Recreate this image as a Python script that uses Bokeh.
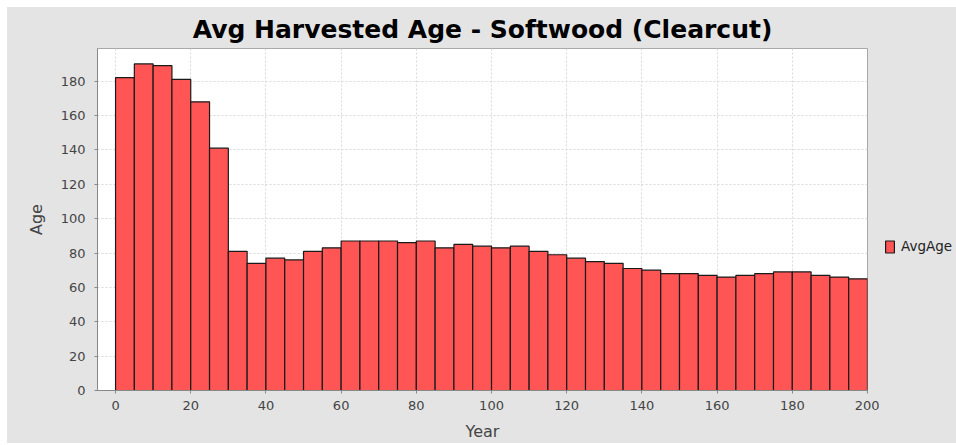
from bokeh.plotting import figure
from bokeh.layouts import row
from bokeh.models import Range1d, SingleIntervalTicker, Legend, LegendItem, ColumnDataSource
from bokeh.embed import file_html
from bokeh.resources import INLINE

# Data
start_year = [0, 5, 10, 15, 20, 25, 30, 35, 40, 45,
              50, 55, 60, 65, 70, 75, 80, 85, 90, 95,
              100, 105, 110, 115, 120, 125, 130, 135, 140, 145,
              150, 155, 160, 165, 170, 175, 180, 185, 190, 195]
avg_age = [182, 190, 189, 181, 168, 141, 81, 74, 77, 76,
           81, 83, 87, 87, 87, 86, 87, 83, 85, 84,
           83, 84, 81, 79, 77, 75, 74, 71, 70, 68,
           68, 67, 66, 67, 68, 69, 69, 67, 66, 65]
bin_width = 5
series_name = "AvgAge"

src = ColumnDataSource(dict(
    left=start_year,
    right=[s + bin_width for s in start_year],
    top=avg_age,
    bottom=[0] * len(avg_age),
))

FONT = "DejaVu Sans"
BG = "#e4e4e4"
BAR_FILL = "#ff5555"
BAR_LINE = "#1a1a1a"

p = figure(width=872, height=436, output_backend="svg", toolbar_location=None,
           x_range=Range1d(-4.8, 200), y_range=Range1d(0, 199),
           min_border_left=90, min_border_right=12, min_border_top=41, min_border_bottom=53)

p.border_fill_color = BG
p.background_fill_color = "white"
p.outline_line_color = "#a8a8a8"
p.outline_line_width = 1

p.title.text = "Avg Harvested Age - Softwood (Clearcut)"
p.title.align = "center"
p.title.text_font = FONT
p.title.text_font_size = "25px"
p.title.text_font_style = "bold"
p.title.text_color = "black"
p.title.offset = 5

p.quad(left="left", right="right", top="top", bottom="bottom", source=src,
       fill_color=BAR_FILL, line_color=BAR_LINE, line_width=1.2)

for ax in (p.xaxis[0], p.yaxis[0]):
    ax.major_label_text_font = FONT
    ax.major_label_text_font_size = "13px"
    ax.major_label_text_color = "#444444"
    ax.axis_label_text_font = FONT
    ax.axis_label_text_font_size = "16px"
    ax.axis_label_text_font_style = "normal"
    ax.axis_label_text_color = "#444444"
    ax.axis_line_color = "#888888"
    ax.major_tick_line_color = "#888888"
    ax.major_tick_in = 0
    ax.major_tick_out = 3
    ax.minor_tick_line_color = None

p.xaxis.ticker = SingleIntervalTicker(interval=20)
p.yaxis.ticker = SingleIntervalTicker(interval=20)
p.xaxis.axis_label = "Year"
p.yaxis.axis_label = "Age"
p.xaxis.major_label_standoff = 6
p.yaxis.major_label_standoff = 8
p.xaxis.axis_label_standoff = 9
p.yaxis.axis_label_standoff = 12

for g in (p.xgrid[0], p.ygrid[0]):
    g.grid_line_color = "#d9d9d9"
    g.grid_line_dash = "2 2"
    g.grid_line_width = 1

# Legend area (right of the plot), clipped by the page edge like the original
lf = figure(width=77, height=436, output_backend="svg", toolbar_location=None,
            x_range=Range1d(0, 1), y_range=Range1d(0, 1),
            x_axis_type=None, y_axis_type=None,
            min_border_left=0, min_border_right=0, min_border_top=0, min_border_bottom=0)
lf.border_fill_color = BG
lf.background_fill_color = BG
lf.outline_line_color = None
lf.grid.visible = False
nan = float("nan")
swatch = lf.quad(left=[nan], right=[nan], top=[nan], bottom=[nan],
                 fill_color=BAR_FILL, line_color=BAR_LINE, line_width=1.2)

legend = Legend(items=[LegendItem(label=series_name, renderers=[swatch])],
                location=(5, 136), padding=0, margin=0, spacing=0,
                glyph_width=11, glyph_height=15, label_standoff=6,
                label_text_font=FONT, label_text_font_size="13.5px",
                label_text_color="#222222",
                border_line_alpha=0, background_fill_alpha=0)
lf.add_layout(legend, "center")

layout = row(p, lf, spacing=0, styles={"background-color": BG})
layout.margin = (7, 0, 0, 7)

open("out.html", "w").write(file_html(layout, INLINE))
